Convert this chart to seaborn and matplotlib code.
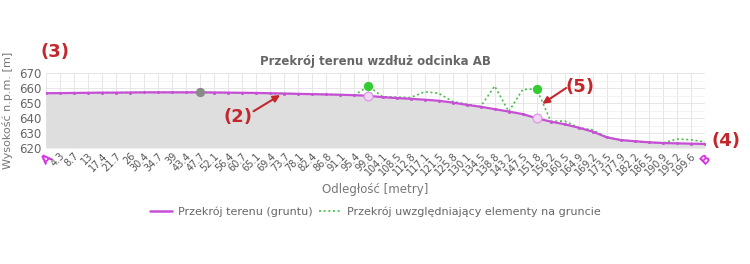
import matplotlib
matplotlib.use("Agg")
import matplotlib.pyplot as plt
from matplotlib.lines import Line2D
import seaborn as sns
import numpy as np
import pandas as pd

# ---- data ----
distance_labels = ["A", "4.3", "8.7", "13", "17.4", "21.7", "26", "30.4", "34.7", "39",
                   "43.4", "47.7", "52.1", "56.4", "60.7", "65.1", "69.4", "73.7", "78.1",
                   "82.4", "86.8", "91.1", "95.4", "99.8", "104.1", "108.5", "112.8",
                   "117.1", "121.5", "125.8", "130.1", "134.5", "138.8", "143.2", "147.5",
                   "151.8", "156.2", "160.5", "164.9", "169.2", "173.5", "177.9", "182.2",
                   "186.5", "190.9", "195.2", "199.6", "B"]

ground = [656.5, 656.6, 656.7, 656.8, 656.9, 656.9, 657.0, 657.1, 657.1, 657.1,
          657.1, 657.1, 657.0, 656.9, 656.8, 656.7, 656.5, 656.3, 656.1, 655.9,
          655.7, 655.5, 655.2, 654.8, 653.9, 653.3, 652.8, 652.2, 651.5, 650.3,
          648.8, 647.5, 645.9, 644.3, 642.6, 639.8, 637.6, 635.8, 633.5, 630.9,
          627.1, 625.3, 624.5, 623.8, 623.3, 623.1, 622.9, 622.7]

objects = [656.5, 656.6, 656.7, 656.8, 656.9, 656.9, 657.0, 657.1, 657.1, 657.1,
           657.1, 657.1, 657.0, 656.9, 656.8, 656.7, 656.5, 656.3, 656.1, 655.9,
           655.7, 655.5, 655.2, 661.3, 654.2, 653.9, 653.6, 657.5, 656.5, 651.0,
           649.2, 647.6, 661.3, 644.3, 659.0, 659.3, 637.9, 637.9, 633.6, 632.0,
           627.1, 625.3, 624.5, 623.8, 623.3, 626.0, 625.5, 624.0]

green_marker_idx = [23, 35]
gray_marker_idx = [11]

y_ticks = [620, 630, 640, 650, 660, 670]

title = "Przekrój terenu wzdłuż odcinka AB"
ylabel = "Wysokość n.p.m. [m]"
xlabel = "Odległość [metry]"
ground_name = "Przekrój terenu (gruntu)"
objects_name = "Przekrój uwzględniający elementy na gruncie"

# ---- style ----
sns.set_theme(style="white")
plt.rcParams["font.family"] = ["DejaVu Sans"]

PURPLE = "#c64fd6"
GREEN = "#4dbb4d"
GRAY_TXT = "#777777"
RED = "#c3272c"

idx = np.arange(len(distance_labels))
df = pd.DataFrame({"idx": idx, "ground": ground, "objects": objects})

fig = plt.figure(figsize=(7.5, 2.64), dpi=100)
ax = fig.add_axes([46 / 750, 1 - 148 / 264, (705 - 46) / 750, (148 - 73) / 264])

ax.fill_between(df["idx"], df["ground"], 620, color="#dedede", zorder=1, linewidth=0)

sns.lineplot(data=df, x="idx", y="objects", ax=ax, color=GREEN, linestyle=(0, (1.2, 1.6)),
             linewidth=1.2, legend=False, zorder=3)
sns.lineplot(data=df, x="idx", y="ground", ax=ax, color=PURPLE, linewidth=1.6,
             marker="o", markersize=2.2, markeredgewidth=0, legend=False, zorder=4)

# markers
gm = df.iloc[green_marker_idx]
ax.scatter(gm["idx"], gm["objects"], s=45, color="#33cc33", zorder=6, linewidths=0)
ax.scatter(gm["idx"], gm["ground"], s=40, facecolor="#f3d6f6", edgecolor="#d79be0",
           linewidths=0.9, zorder=6)
gr = df.iloc[gray_marker_idx]
ax.scatter(gr["idx"], gr["ground"], s=45, color="#8a8a8a", zorder=6, linewidths=0)

ax.set_xlim(0, len(distance_labels) - 1)
ax.set_ylim(620, 670)
ax.set_yticks(y_ticks)
ax.set_xticks(idx)
ax.set_xticklabels(distance_labels, rotation=45, ha="right", rotation_mode="anchor",
                   fontsize=7, color="#555555")
for lbl in (ax.get_xticklabels()[0], ax.get_xticklabels()[-1]):
    lbl.set_color("#d633e0")
    lbl.set_fontweight("bold")
    lbl.set_fontsize(9)
ax.tick_params(axis="y", labelsize=8.5, labelcolor="#666666", length=0, pad=3)
ax.tick_params(axis="x", length=0, pad=2)

ax.set_yticks(np.arange(620, 671, 5), minor=True)
ax.grid(True, which="major", color="#e6e6e6", linewidth=0.7, zorder=0)
ax.grid(True, which="minor", axis="y", color="#eeeeee", linewidth=0.5, zorder=0)
ax.set_axisbelow(True)
for s in ax.spines.values():
    s.set_visible(False)
ax.set_facecolor("white")

ax.set_ylabel(ylabel, fontsize=8, color=GRAY_TXT, labelpad=5)
ax.set_xlabel(xlabel, fontsize=8.5, color=GRAY_TXT, labelpad=4)
ax.set_title(title, fontsize=8.5, fontweight="bold", color="#666666", pad=6)

handles = [Line2D([], [], color=PURPLE, linewidth=1.8),
           Line2D([], [], color=GREEN, linewidth=1.2, linestyle=(0, (1.2, 1.6)))]
leg = ax.legend(handles, [ground_name, objects_name], loc="upper center",
                bbox_to_anchor=(0.5, -0.65), ncol=2, frameon=False,
                fontsize=8, handlelength=2.0, columnspacing=0.6, handletextpad=0.5)
for t in leg.get_texts():
    t.set_color("#666666")

# red annotations
arrow = dict(arrowstyle="-|>", color=RED, lw=1.5, shrinkA=0, shrinkB=0, mutation_scale=10)
ax.text(13.7, 640.5, "(2)", fontsize=13, fontweight="bold", color=RED,
        ha="center", va="center")
ax.annotate("", xy=(16.7, 655.3), xytext=(14.8, 644.5), arrowprops=arrow)
ax.text(38.1, 660.7, "(5)", fontsize=13, fontweight="bold", color=RED,
        ha="center", va="center")
ax.annotate("", xy=(35.4, 649.5), xytext=(37.1, 660.0), arrowprops=arrow,
            annotation_clip=False)
fig.text(55 / 750, 1 - 52 / 264, "(3)", fontsize=13, fontweight="bold", color=RED,
         ha="center", va="center")
fig.text(726 / 750, 1 - 141 / 264, "(4)", fontsize=13, fontweight="bold", color=RED,
         ha="center", va="center")

fig.savefig("out.png", dpi=100)
